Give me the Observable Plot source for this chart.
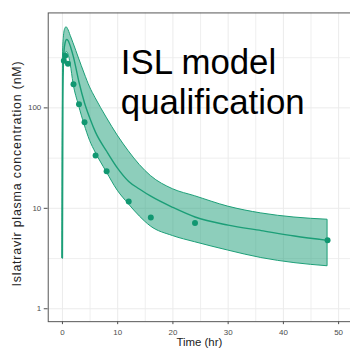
<!DOCTYPE html>
<html>
<head>
<meta charset="utf-8">
<script src="https://cdn.jsdelivr.net/npm/d3@7"></script>
<script src="https://cdn.jsdelivr.net/npm/@observablehq/plot@0.6"></script>
<style>
  html, body { margin: 0; padding: 0; overflow: hidden; background: #fff; }
</style>
</head>
<body>
<div id="chart"></div>
<script>
// Simulated islatravir concentrations (nM): median and prediction interval
const simTime   = [0, 0.1, 0.25, 0.5, 0.75, 1, 1.5, 2, 3, 4, 5, 6, 8, 10, 12, 14, 16, 20, 24, 30, 36, 42, 48];
const simMedian = [3.2, 200, 350, 450, 480, 470, 400, 320, 180, 112, 78, 57, 37, 25, 18.5, 15.5, 13.2, 10.2, 8.2, 6.8, 6.0, 5.3, 4.8];
const simLower  = [3.2, 120, 230, 330, 360, 350, 270, 175, 105, 68, 47, 36, 23, 15, 11, 8.3, 6.6, 5.3, 4.6, 3.8, 3.2, 2.85, 2.65];
const simUpper  = [3.2, 330, 500, 610, 635, 610, 520, 440, 310, 220, 160, 125, 80, 53, 37, 27, 21, 15.5, 13.2, 10.4, 8.9, 8.1, 7.7];

// Observed mean concentrations
const obsTime = [0.25, 0.5, 1, 2, 3, 4, 6, 8, 12, 16, 24, 48];
const obsConc = [295, 330, 275, 172, 109, 72, 33.5, 23.4, 11.7, 8.1, 7.15, 4.8];

// Axis ticks and grid lines
const xTicks = [0, 10, 20, 30, 40, 50];
const xMinor = [5, 15, 25, 35, 45];
const yTicks = [1, 10, 100];
const yMinor = [3.16, 31.6, 316];

const titleLines = ["ISL model", "qualification"];
const xTitle = "Time (hr)";
const yTitle = "Islatravir plasma concentration (nM)";

const sim = simTime.map((t, i) => ({t, med: simMedian[i], lo: simLower[i], hi: simUpper[i]}));
const obs = obsTime.map((t, i) => ({t, c: obsConc[i]}));

const teal = "#1b9e77";
const gridColor = "#ebebeb";

const chart = Plot.plot({
  width: 352,
  height: 352,
  marginLeft: 48,
  marginRight: 0,
  marginTop: 12.5,
  marginBottom: 29,
  style: {fontFamily: "'Liberation Sans', Arial, sans-serif", fontSize: "8px", color: "#4d4d4d", background: "#fff"},
  x: {domain: [-2.574, 52.15], ticks: xTicks, tickSize: 3, tickPadding: 5, label: null},
  y: {type: "log", domain: [0.744, 882], ticks: yTicks, tickFormat: d => String(d), tickSize: 4, tickPadding: 3, label: null},
  marks: [
    Plot.ruleX(xMinor, {stroke: gridColor, strokeWidth: 0.8}),
    Plot.ruleY(yMinor, {stroke: gridColor, strokeWidth: 0.8}),
    Plot.ruleX(xTicks, {stroke: gridColor, strokeWidth: 1}),
    Plot.ruleY(yTicks, {stroke: gridColor, strokeWidth: 1}),
    Plot.areaY(sim, {x: "t", y1: "lo", y2: "hi", fill: teal, fillOpacity: 0.5, stroke: teal, strokeWidth: 1, curve: "monotone-x"}),
    Plot.lineY(sim, {x: "t", y: "med", stroke: teal, strokeWidth: 1.4, curve: "monotone-x"}),
    Plot.dot(obs, {x: "t", y: "c", r: 3, fill: "#119771", stroke: "none"}),
    Plot.frame({stroke: "#555", strokeWidth: 1}),
    Plot.text([titleLines.join("\n")], {
      frameAnchor: "top-left", textAnchor: "start", lineAnchor: "top",
      dx: 73, dy: 33, fontSize: 35, lineHeight: 1.14, fill: "#000"
    }),
    Plot.text([xTitle], {
      frameAnchor: "bottom", lineAnchor: "top", dy: 16.5, fontSize: 11.5, fill: "#222"
    }),
    Plot.text([yTitle], {
      frameAnchor: "left", textAnchor: "middle", rotate: -90, lineAnchor: "middle", fontSize: 12.5, fill: "#222"
    })
  ]
});

// Pull the rotated y-axis title out into the left margin
d3.select(chart).selectAll("text")
  .filter(function () { return this.textContent === yTitle; })
  .attr("transform", "translate(17,174) rotate(-90)")
  .style("letter-spacing", "0.8px");

document.getElementById("chart").appendChild(chart);
</script>
</body>
</html>
